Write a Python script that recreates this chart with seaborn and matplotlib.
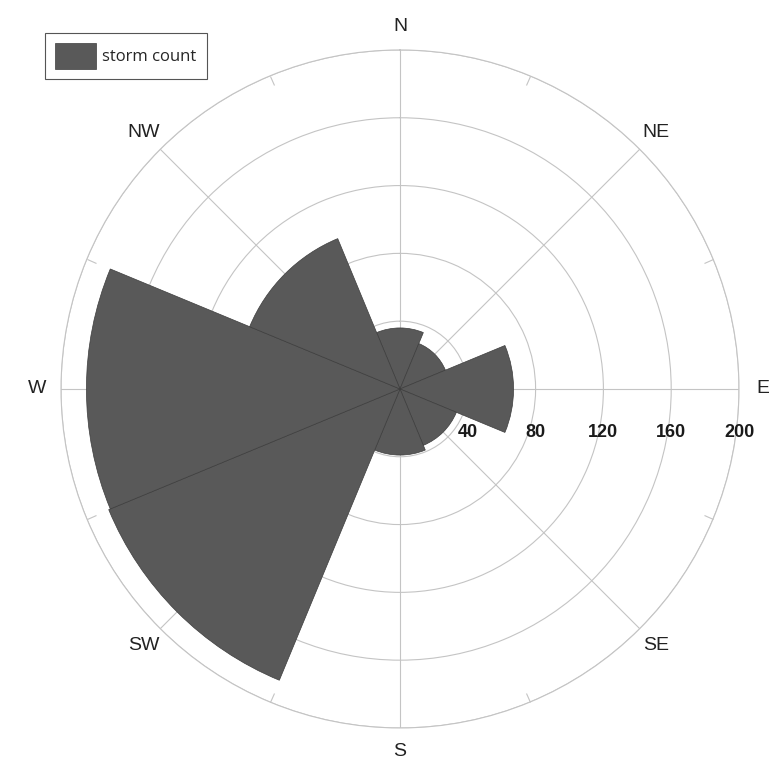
"""Storm-direction wind rose: polar bar chart of storm counts per bearing."""
import matplotlib

matplotlib.use("Agg")
import matplotlib.pyplot as plt
import numpy as np
import seaborn as sns
from matplotlib.transforms import offset_copy

# --------------------------------------------------------------------------- #
# Data
# --------------------------------------------------------------------------- #
directions = ["N", "NE", "E", "SE", "S", "SW", "W", "NW"]
bearings_deg = [0, 45, 90, 135, 180, 225, 270, 315]
storm_counts = [36, 29, 67, 36, 39, 186, 185, 96]
radial_ticks = [40, 80, 120, 160, 200]
series_label = "storm count"

BAR_COLOR = "#595959"
EDGE_COLOR = "#3d3d3d"
GRID_COLOR = "#c4c4c4"

sns.set_theme(style="white")
plt.rcParams["font.family"] = ["Liberation Sans", "DejaVu Sans"]

fig = plt.figure(figsize=(7.69, 7.65), dpi=100)
ax = fig.add_axes([0.0793, 0.0484, 0.8817, 0.8863], projection="polar")
ax.set_theta_zero_location("N")
ax.set_theta_direction(-1)

theta = np.deg2rad(bearings_deg)
sns.barplot(x=theta, y=storm_counts, orient="x", native_scale=True, width=1.0,
            color=BAR_COLOR, saturation=1, edgecolor=EDGE_COLOR, linewidth=0.5,
            errorbar=None, label=series_label, ax=ax)

ax.set_xlim(0, 2 * np.pi)
ax.set_ylim(0, radial_ticks[-1])
ax.set_xlabel("")
ax.set_ylabel("")

# grid: compass spokes + count rings, all light grey and under the bars
ax.set_axisbelow(True)
ax.grid(True, color=GRID_COLOR, linewidth=0.8)
ax.spines["polar"].set_color(GRID_COLOR)
ax.spines["polar"].set_linewidth(0.8)

ax.set_xticks(theta, directions)
ax.set_xticks(theta + np.deg2rad(22.5), minor=True)
ax.tick_params(axis="x", which="major", length=0, pad=10, labelsize=14,
               labelcolor="#222222")
ax.tick_params(axis="x", which="minor", bottom=True, top=True, length=7, width=0.8,
               direction="in", color=GRID_COLOR)

ax.set_yticks(radial_ticks)
ax.set_yticklabels([])
# count labels sit a fixed distance below the E spoke
shift_down = offset_copy(ax.transData, fig=fig, x=0, y=-44, units="dots")
for r in radial_ticks:
    ax.text(np.pi / 2, r, str(r), transform=shift_down, ha="center", va="center",
            fontsize=13, fontweight="bold", color="#1a1a1a")

leg = ax.legend(loc="upper left", bbox_to_anchor=(0.0585, 0.9569),
                bbox_transform=fig.transFigure, borderaxespad=0, frameon=True,
                fancybox=False, framealpha=1, edgecolor="#555555",
                prop={"family": "Open Sans", "size": 12}, handlelength=2.45,
                handleheight=2.0, borderpad=0.6, handletextpad=0.4)
leg.get_frame().set_linewidth(0.8)

fig.savefig("out.png", dpi=100)
plt.close(fig)
